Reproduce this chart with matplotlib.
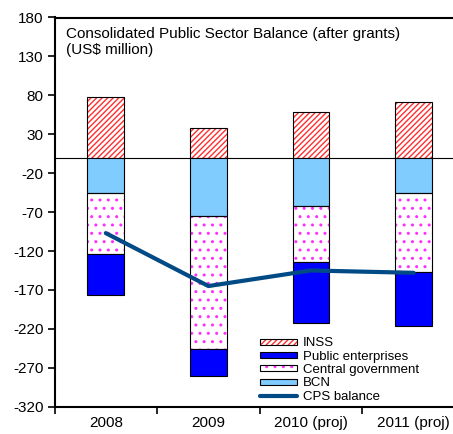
import matplotlib
matplotlib.use("Agg")
import matplotlib.pyplot as plt
from matplotlib.legend_handler import HandlerTuple
import numpy as np

plt.rcParams['font.family'] = ['Liberation Sans', 'DejaVu Sans']
plt.rcParams['hatch.linewidth'] = 1.0
plt.rcParams['axes.unicode_minus'] = False

years = ['2008', '2009', '2010 (proj)', '2011 (proj)']
inss = [78, 38, 58, 71]
bcn = [-45, -75, -62, -46]
central_gov = [-79, -171, -72, -101]
public_ent = [-53, -35, -78, -69]
cps_balance = [-97, -165, -145, -148]

x = np.arange(len(years))
w = 0.357

fig = plt.figure(figsize=(4.53, 4.34), dpi=100)
ax = fig.add_axes([54.5 / 453, 1 - 406.7 / 434, 410.4 / 453, 389.2 / 434])

# positive part
h_inss = ax.bar(x, inss, w, color='white', edgecolor='#ff3030', lw=0, hatch='//////', zorder=2)
ax.bar(x, inss, w, fill=False, edgecolor='black', lw=0.8, zorder=3)

# negative parts stacked downward
bot_cg = np.array(bcn)
bot_pe = bot_cg + np.array(central_gov)
h_bcn = ax.bar(x, bcn, w, color='#80ccff', edgecolor='black', lw=0.8, zorder=3)
h_cg = ax.bar(x, central_gov, w, bottom=bot_cg, color='white', edgecolor='#ff30ff', lw=0,
              hatch='..', zorder=2)
ax.bar(x, central_gov, w, bottom=bot_cg, fill=False, edgecolor='black', lw=0.8, zorder=3)
h_pe = ax.bar(x, public_ent, w, bottom=bot_pe, color='#0000ff', edgecolor='black', lw=0.8, zorder=3)

line, = ax.plot(x, cps_balance, color='#004a85', lw=3, zorder=4, solid_capstyle='round')

ax.axhline(0, color='black', lw=0.8, zorder=1)

ax.set_xlim(-0.5, 3.5)
ax.set_ylim(-320, 180)
ax.set_yticks(np.arange(-320, 181, 50))
ax.set_xticks(x)
ax.set_xticklabels(years)
ax.set_xticks(np.arange(-0.5, 3.6, 1), minor=True)
ax.tick_params(axis='x', which='major', length=0, labelsize=11, pad=7)
ax.tick_params(axis='x', which='minor', length=5, width=1.2, direction='out')
ax.tick_params(axis='y', length=5, width=1.2, labelsize=11, pad=3)
for s in ax.spines.values():
    s.set_linewidth(1.5)

ax.text(0.028, 0.975, 'Consolidated Public Sector Balance (after grants)\n(US$ million)',
        transform=ax.transAxes, ha='left', va='top', fontsize=11, linespacing=1.2)

outline = plt.Rectangle((0, 0), 1, 1, fill=False, edgecolor='black', lw=0.8)
handles = [(h_inss[0], outline), h_pe[0], (h_cg[0], outline), h_bcn[0], line]
labels = ['INSS', 'Public enterprises', 'Central government', 'BCN', 'CPS balance']
ax.legend(handles, labels, loc='upper left', bbox_to_anchor=(0.5, 0.178), frameon=False,
          fontsize=9.5, handlelength=2.85, handleheight=0.35, handletextpad=0.4,
          labelspacing=0.1, borderpad=0, borderaxespad=0,
          handler_map={tuple: HandlerTuple(ndivide=1, pad=0)})

fig.savefig('out.png', dpi=100)
